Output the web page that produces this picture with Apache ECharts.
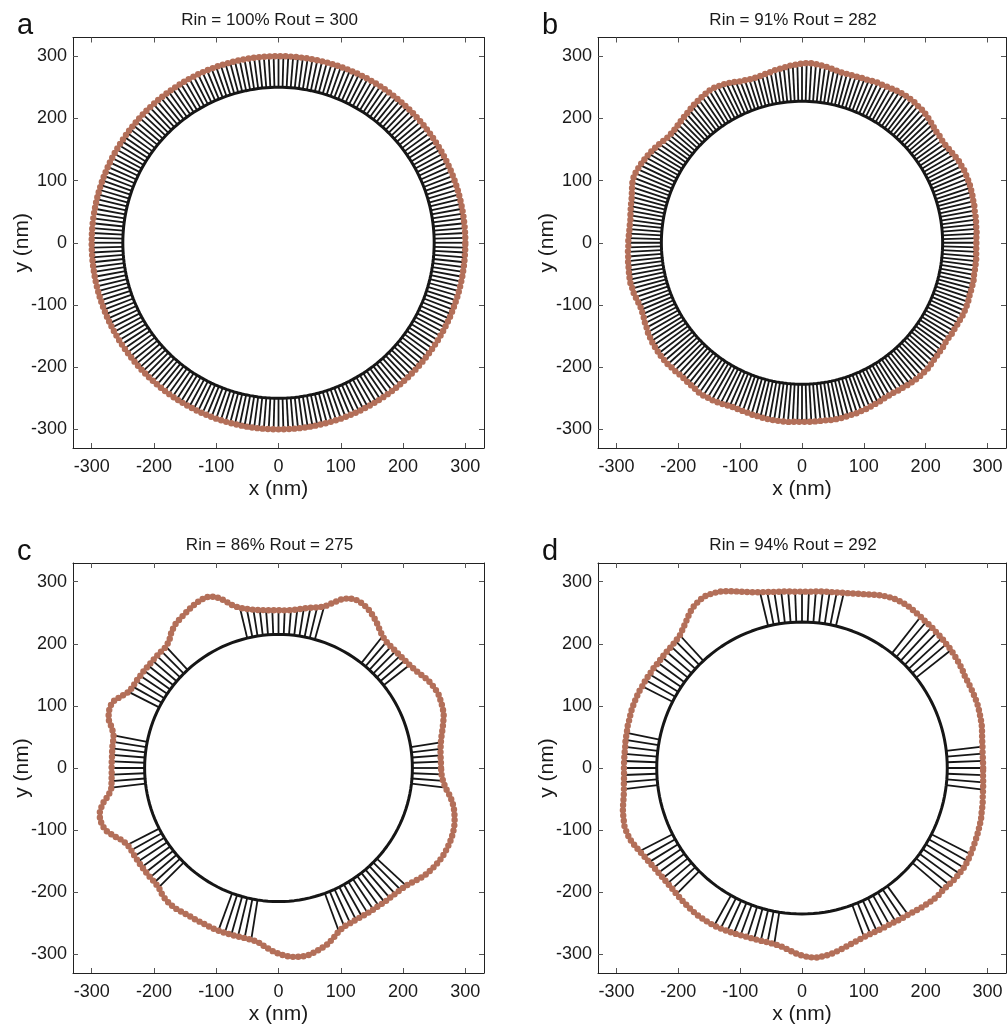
<!DOCTYPE html>
<html><head><meta charset="utf-8">
<script src="https://cdn.jsdelivr.net/npm/echarts@6/dist/echarts.min.js"></script>
<style>html,body{margin:0;padding:0;background:#fff}#c{width:1008px;height:1026px}</style>
</head><body><div id="c"></div>
<script>
// ---------- data ----------
const tickValues = [-300, -200, -100, 0, 100, 200, 300];
const panelLetters = ['a', 'b', 'c', 'd'];
const panelTitles = ['Rin = 100% Rout = 300', 'Rin = 91% Rout = 282', 'Rin = 86% Rout = 275', 'Rin = 94% Rout = 292'];
const innerRadius = [250, 227.5, 215, 235];
// angular spacing (deg) of the membrane samples / tether sites in each panel
const sampleStepDeg = [1.5, 1.5, 2.25, 2.25];
// outer membrane radius (nm); sample k sits at angle k*step, counter-clockwise from +x
const outerA = [
300,300,300,300,300,300,300,300,300,300, 300,300,300,300,300,300,300,300,300,300,
300,300,300,300,300,300,300,300,300,300, 300,300,300,300,300,300,300,300,300,300,
300,300,300,300,300,300,300,300,300,300, 300,300,300,300,300,300,300,300,300,300,
300,300,300,300,300,300,300,300,300,300, 300,300,300,300,300,300,300,300,300,300,
300,300,300,300,300,300,300,300,300,300, 300,300,300,300,300,300,300,300,300,300,
300,300,300,300,300,300,300,300,300,300, 300,300,300,300,300,300,300,300,300,300,
300,300,300,300,300,300,300,300,300,300, 300,300,300,300,300,300,300,300,300,300,
300,300,300,300,300,300,300,300,300,300, 300,300,300,300,300,300,300,300,300,300,
300,300,300,300,300,300,300,300,300,300, 300,300,300,300,300,300,300,300,300,300,
300,300,300,300,300,300,300,300,300,300, 300,300,300,300,300,300,300,300,300,300,
300,300,300,300,300,300,300,300,300,300, 300,300,300,300,300,300,300,300,300,300,
300,300,300,300,300,300,300,300,300,300, 300,300,300,300,300,300,300,300,300,300];
const outerB = [
282,282,283,283,283,284,284,284,285,285, 286,286,287,287,287,287,287,286,286,285,
283,282,281,280,280,281,281,282,284,285, 287,288,289,289,290,290,290,290,289,288,
287,286,285,285,284,283,282,282,281,281, 281,281,282,283,285,286,287,288,289,289,
288,287,286,285,283,282,281,279,278,277, 276,276,276,277,278,280,282,284,285,286,
287,287,286,285,284,283,282,280,279,278, 277,276,275,275,275,276,278,280,282,284,
286,287,289,290,291,292,292,291,289,287, 285,284,283,282,281,280,280,280,280,281,
281,281,282,282,283,283,284,284,285,285, 284,284,283,282,281,281,282,283,285,286,
288,289,290,291,291,292,292,292,292,291, 291,290,290,290,291,291,292,293,293,292,
292,291,290,289,287,287,287,287,287,288, 288,288,289,289,289,289,289,289,288,288,
288,288,288,288,288,288,289,289,289,289, 288,288,288,287,287,286,285,285,284,283,
283,283,284,284,285,286,286,287,287,287, 287,286,285,284,284,283,283,282,282,283,
283,283,284,284,285,285,285,285,284,284, 284,284,284,283,283,283,283,283,282,282];
const outerC = [
261,261,261,262,264,267,271,275,279,281, 282,283,282,280,277,273,270,268,267,266,
266,266,267,270,276,283,289,294,297,298, 296,289,279,270,266,263,260,257,255,254,
254,254,255,256,258,261,265,272,284,294, 298,298,296,293,290,287,284,278,270,266,
266,266,266,266,267,267,268,268,270,277, 285,288,287,283,275,270,269,269,268,268,
268,268,269,270,276,287,295,298,298,294, 286,277,272,271,271,271,271,271,271,271,
272,276,279,280,280,279,278,278,278,278, 279,279,279,279,279,279,280,282,288,294,
299,303,305,306,305,302,298,294,287,280, 276,275,274,274,274,274,274,275,275,276,
277,279,283,288,292,295,297,299,300,300, 300,299,297,294,290,285,278,270,265,262];
const outerD = [
293,293,293,294,295,297,299,300,301,302, 302,302,302,302,304,305,306,307,307,308,
308,309,309,310,311,312,312,311,309,306, 302,298,295,292,290,288,287,286,285,284,
284,284,285,286,287,289,291,294,298,303, 308,313,316,318,317,314,309,302,296,291,
289,288,288,288,288,289,289,290,290,291, 291,291,291,290,290,289,289,288,288,288,
288,288,289,290,292,295,298,300,302,302, 301,298,295,292,290,288,287,286,286,286,
287,288,289,290,291,291,291,291,290,289, 288,287,286,286,286,286,287,289,293,298,
302,305,306,305,303,300,297,294,292,290, 289,289,289,289,290,291,292,294,296,298,
300,301,301,303,305,306,307,307,306,305, 304,303,302,301,299,298,296,295,294,293];
// angular ranges (deg) where the membrane is tethered to the inner ring
const tethersA = [[0, 360]];
const tethersB = [[0, 360]];
const tethersC = [[-7, 11], [38, 52], [74, 104], [131, 153], [168, 187], [206, 226], [248, 263], [290, 318]];
const tethersD = [[-7, 7], [37, 52], [75, 104], [131, 153], [168, 187], [205, 225], [240, 263], [289, 306], [318, 333]];

// ---------- layout ----------
const grids = [
  {left: 73, top: 37.5, width: 411, height: 410.5},
  {left: 598, top: 37.5, width: 408, height: 410.5},
  {left: 73, top: 563, width: 411, height: 410},
  {left: 598, top: 563, width: 408, height: 410}
];
const FONT = 'Liberation Sans';
const BEAD = '#b36f59';
const INK = '#161616';
const outers = [outerA, outerB, outerC, outerD];
const tethers = [tethersA, tethersB, tethersC, tethersD];

function isTethered(deg, ranges) {
  for (const [a, b] of ranges) {
    let d = deg;
    if (a < 0 && d > 180) d -= 360;
    if (d >= a - 0.01 && d <= b + 0.01) return true;
  }
  return false;
}
const rad = d => d * Math.PI / 180;

const xAxes = [], yAxes = [], series = [], titles = [];
grids.forEach((g, p) => {
  const base = {
    gridIndex: p, type: 'value', min: -330, max: 330,
    axisLine: {show: true, onZero: false, lineStyle: {color: '#222', width: 1}},
    splitLine: {show: false}
  };
  const tick = {show: true, inside: true, length: 5, customValues: tickValues, lineStyle: {color: '#555'}};
  xAxes.push(Object.assign({}, base, {
    position: 'bottom', name: 'x (nm)', nameLocation: 'middle', nameGap: 31, nameMoveOverlap: false,
    nameTextStyle: {fontFamily: FONT, fontSize: 21, color: '#1a1a1a'},
    axisTick: tick,
    axisLabel: {show: true, customValues: tickValues, fontFamily: FONT, fontSize: 18, color: '#1a1a1a', margin: 10}
  }));
  xAxes.push(Object.assign({}, base, {position: 'top', axisTick: tick, axisLabel: {show: false}}));
  yAxes.push(Object.assign({}, base, {
    position: 'left', name: 'y (nm)', nameLocation: 'middle', nameGap: 40, nameRotate: 90, nameMoveOverlap: false,
    nameTextStyle: {fontFamily: FONT, fontSize: 21, color: '#1a1a1a'},
    axisTick: tick,
    axisLabel: {show: true, customValues: tickValues, fontFamily: FONT, fontSize: 18, color: '#1a1a1a', margin: 6}
  }));
  yAxes.push(Object.assign({}, base, {position: 'right', axisTick: tick, axisLabel: {show: false}}));

  const outer = outers[p], rin = innerRadius[p], step = sampleStepDeg[p];
  const membrane = [], spokes = [], ring = [];
  outer.forEach((r, k) => {
    const deg = k * step, t = rad(deg);
    membrane.push([r * Math.cos(t), r * Math.sin(t)]);
    ring.push([rin * Math.cos(t), rin * Math.sin(t)]);
    if (isTethered(deg, tethers[p])) spokes.push([deg, rin, r]);
  });
  membrane.push(membrane[0]);
  ring.push(ring[0]);

  series.push({
    type: 'custom', xAxisIndex: p * 2, yAxisIndex: p * 2, data: spokes, z: 1, silent: true,
    encode: {x: -1, y: -1},
    renderItem: (params, api) => {
      const t = rad(api.value(0)), r1 = api.value(1), r2 = api.value(2);
      const a = api.coord([r1 * Math.cos(t), r1 * Math.sin(t)]);
      const b = api.coord([r2 * Math.cos(t), r2 * Math.sin(t)]);
      return {type: 'line', shape: {x1: a[0], y1: a[1], x2: b[0], y2: b[1]},
        style: {stroke: INK, lineWidth: 1.8}};
    }
  });
  series.push({
    type: 'line', xAxisIndex: p * 2, yAxisIndex: p * 2, data: ring, showSymbol: false, z: 2, silent: true,
    lineStyle: {color: INK, width: 3}
  });
  // membrane beads: round dots spaced evenly along the membrane contour
  series.push({
    type: 'line', xAxisIndex: p * 2, yAxisIndex: p * 2, data: membrane, showSymbol: false, z: 3, silent: true,
    lineStyle: {color: BEAD, width: 6.4, type: [0, 5.3], cap: 'round', join: 'round'}
  });

  titles.push({
    text: panelTitles[p], left: g.left + g.width / 2 - 9, top: g.top - 26, textAlign: 'center', padding: 0,
    textStyle: {fontFamily: FONT, fontSize: 17, fontWeight: 'normal', color: '#1a1a1a'}
  });
  titles.push({
    text: panelLetters[p], left: g.left - 56, top: g.top - 26, padding: 0,
    textStyle: {fontFamily: FONT, fontSize: 29, fontWeight: 'normal', color: '#111'}
  });
});

const chart = echarts.init(document.getElementById('c'), null, {renderer: 'canvas'});
chart.setOption({
  animation: false,
  backgroundColor: '#fff',
  title: titles,
  grid: grids,
  xAxis: xAxes,
  yAxis: yAxes,
  series: series
});
</script></body></html>
